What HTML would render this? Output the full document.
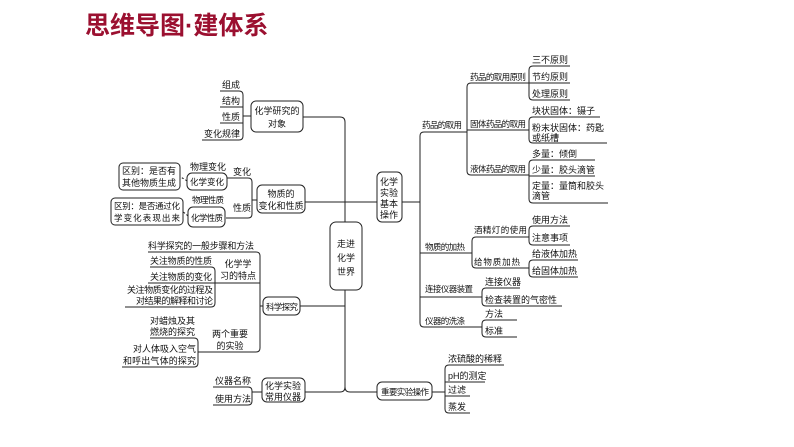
<!DOCTYPE html>
<html><head><meta charset="utf-8"><style>
html,body{margin:0;padding:0;background:#fff;}
svg{display:block;}
text{font-family:"Liberation Sans","Noto Sans CJK SC",sans-serif;font-size:9px;fill:#111;}
.s8{font-size:8.5px;}
.t{font-size:25px;font-weight:bold;fill:#9b1030;}
path,line{fill:none;stroke:#222;stroke-width:1;}
rect{fill:#fff;stroke:#222;stroke-width:1;}
.m{text-anchor:middle;}
</style></head><body>
<svg width="794" height="447" viewBox="0 0 794 447">
<text class="t" x="85" y="34">思维导图·建体系</text>

<path d="M303 117 H340 Q345 117 345 122 V387 Q345 392 340 392 H305"/>
<path d="M345 387 Q345 392 350 392 H377"/>
<path d="M305 202 H377"/>
<path d="M300 306 H345"/>
<rect x="330" y="222" width="32" height="68" rx="6"/>
<text class="m" x="346" y="247">走进</text>
<text class="m" x="346" y="261">化学</text>
<text class="m" x="346" y="275">世界</text>

<path d="M220 91 H239 Q243 91 243 95 V136 Q243 140 239 140 H202"/>
<path d="M220 107 H243 M220 123 H243 M243 116 H251"/>
<text x="222" y="88">组成</text>
<text x="222" y="104">结构</text>
<text x="222" y="120">性质</text>
<text x="204" y="137">变化规律</text>
<rect x="251" y="101" width="52" height="31" rx="5"/>
<text class="m" x="277" y="114">化学研究的</text>
<text class="m" x="277" y="127">对象</text>

<rect x="257" y="185" width="48" height="28" rx="5"/>
<text class="m" x="281" y="197">物质的</text>
<text class="m" x="281" y="209">变化和性质</text>
<path d="M226 178 H248 Q252 178 252 182 V214 Q252 218 248 218 H226 M252 200 H257"/>
<text x="233" y="175">变化</text>
<text x="233" y="211">性质</text>
<text x="190" y="170">物理变化</text>
<rect x="187" y="173" width="40" height="17" rx="5"/>
<text x="190" y="185" class="s8" textLength="34">化学变化</text>
<path d="M187 181 Q183 178 180 177" stroke-dasharray="2,2"/>
<rect x="119" y="163" width="61" height="27" rx="4"/>
<text x="122" y="174">区别：是否有</text>
<text x="122" y="186">其他物质生成</text>
<text x="192" y="203" class="s8" textLength="32">物理性质</text>
<rect x="188" y="207" width="37" height="20" rx="5"/>
<text x="191" y="221" class="s8" textLength="32">化学性质</text>
<path d="M188 216 Q185 213 183 212" stroke-dasharray="2,2"/>
<rect x="111" y="198" width="72" height="27" rx="4"/>
<text x="114" y="209" class="s8" textLength="66">区别：是否通过化</text>
<text x="114" y="221" class="s8" textLength="66">学变化表现出来</text>

<text x="148" y="249" textLength="106">科学探究的一般步骤和方法</text>
<path d="M148 252 H256 Q260 252 260 256 V348 Q260 352 256 352 H198"/>
<path d="M148 283 H260 M260 306 H263"/>
<text class="m" x="238" y="267">化学学</text>
<text class="m" x="238" y="279">习的特点</text>
<path d="M150 267 H211 Q215 267 215 271 V303 Q215 307 211 307 H125"/>
<text x="150" y="264" textLength="62">关注物质的性质</text>
<text x="150" y="280" textLength="62">关注物质的变化</text>
<text x="127" y="293" textLength="86">关注物质变化的过程及</text>
<text x="136" y="304" textLength="77">对结果的解释和讨论</text>
<rect x="263" y="297" width="37" height="18" rx="5"/>
<text x="266" y="310" class="s8" textLength="32">科学探究</text>
<text class="m" x="230" y="337">两个重要</text>
<text class="m" x="230" y="349">的实验</text>
<path d="M150 338 H194 Q198 338 198 342 V363 Q198 367 194 367 H122"/>
<text x="150" y="324">对蜡烛及其</text>
<text x="150" y="335">燃烧的探究</text>
<text x="133" y="352" textLength="63">对人体吸入空气</text>
<text x="123" y="364" textLength="73">和呼出气体的探究</text>

<text x="215" y="384">仪器名称</text>
<text x="215" y="402">使用方法</text>
<path d="M213 387 H248 Q252 387 252 391 V401 Q252 405 248 405 H213 M252 392 H262"/>
<rect x="262" y="378" width="43" height="24" rx="5"/>
<text class="m" x="283" y="389">化学实验</text>
<text class="m" x="283" y="400">常用仪器</text>

<rect x="377" y="172" width="25" height="50" rx="5"/>
<text class="m" x="389" y="185">化学</text>
<text class="m" x="389" y="196">实验</text>
<text class="m" x="389" y="207">基本</text>
<text class="m" x="389" y="218">操作</text>
<path d="M402 202 H420"/>
<path d="M467 132 H424 Q420 132 420 136 V323 Q420 327 424 327 H482"/>
<path d="M420 253 H472 M420 297 H482"/>
<text x="422" y="128" class="s8" textLength="40">药品的取用</text>
<path d="M529 83 H471 Q467 83 467 87 V171 Q467 175 471 175 H529 M467 130 H529"/>
<text x="470" y="80" class="s8" textLength="56">药品的取用原则</text>
<text x="470" y="127" class="s8" textLength="56">固体药品的取用</text>
<text x="470" y="172" class="s8" textLength="56">液体药品的取用</text>
<path d="M570 66 H533 Q529 66 529 70 V96 Q529 100 533 100 H570 M529 83 H570"/>
<text x="532" y="63">三不原则</text>
<text x="532" y="80">节约原则</text>
<text x="532" y="97">处理原则</text>
<path d="M600 117 H533 Q529 117 529 121 V139 Q529 143 533 143 H607"/>
<text x="532" y="114">块状固体：镊子</text>
<text x="532" y="131" textLength="72">粉末状固体：药匙</text>
<text x="532" y="141">或纸槽</text>
<path d="M595 160 H533 Q529 160 529 164 V199 Q529 203 533 203 H608 M529 176 H595"/>
<text x="532" y="157">多量：倾倒</text>
<text x="532" y="173">少量：胶头滴管</text>
<text x="532" y="189">定量：量筒和胶头</text>
<text x="532" y="199">滴管</text>

<text x="425" y="250" class="s8" textLength="40">物质的加热</text>
<path d="M529 237 H476 Q472 237 472 241 V264 Q472 268 476 268 H529"/>
<text x="474" y="233" class="s8" textLength="53">酒精灯的使用</text>
<text x="474" y="265" class="s8" textLength="46">给物质加热</text>
<path d="M570 226 H533 Q529 226 529 230 V241 Q529 245 533 245 H570"/>
<text x="532" y="223">使用方法</text>
<text x="532" y="241">注意事项</text>
<path d="M578 260 H533 Q529 260 529 264 V273 Q529 277 533 277 H578"/>
<text x="532" y="257">给液体加热</text>
<text x="532" y="274">给固体加热</text>

<text x="425" y="292" class="s8" textLength="48">连接仪器装置</text>
<path d="M520 288 H486 Q482 288 482 292 V302 Q482 306 486 306 H562"/>
<text x="485" y="285">连接仪器</text>
<text x="485" y="303">检查装置的气密性</text>
<text x="425" y="324" class="s8" textLength="40">仪器的洗涤</text>
<path d="M517 320 H486 Q482 320 482 324 V333 Q482 337 486 337 H517"/>
<text x="485" y="317">方法</text>
<text x="485" y="334">标准</text>

<rect x="377" y="382" width="55" height="18" rx="5"/>
<text x="381" y="395" class="s8" textLength="48">重要实验操作</text>
<path d="M432 392 H445"/>
<path d="M504 365 H449 Q445 365 445 369 V409 Q445 413 449 413 H470 M445 382 H485 M445 396 H470"/>
<text x="448" y="362">浓硫酸的稀释</text>
<text x="448" y="379">pH的测定</text>
<text x="448" y="393">过滤</text>
<text x="448" y="410">蒸发</text>
</svg>
</body></html>
